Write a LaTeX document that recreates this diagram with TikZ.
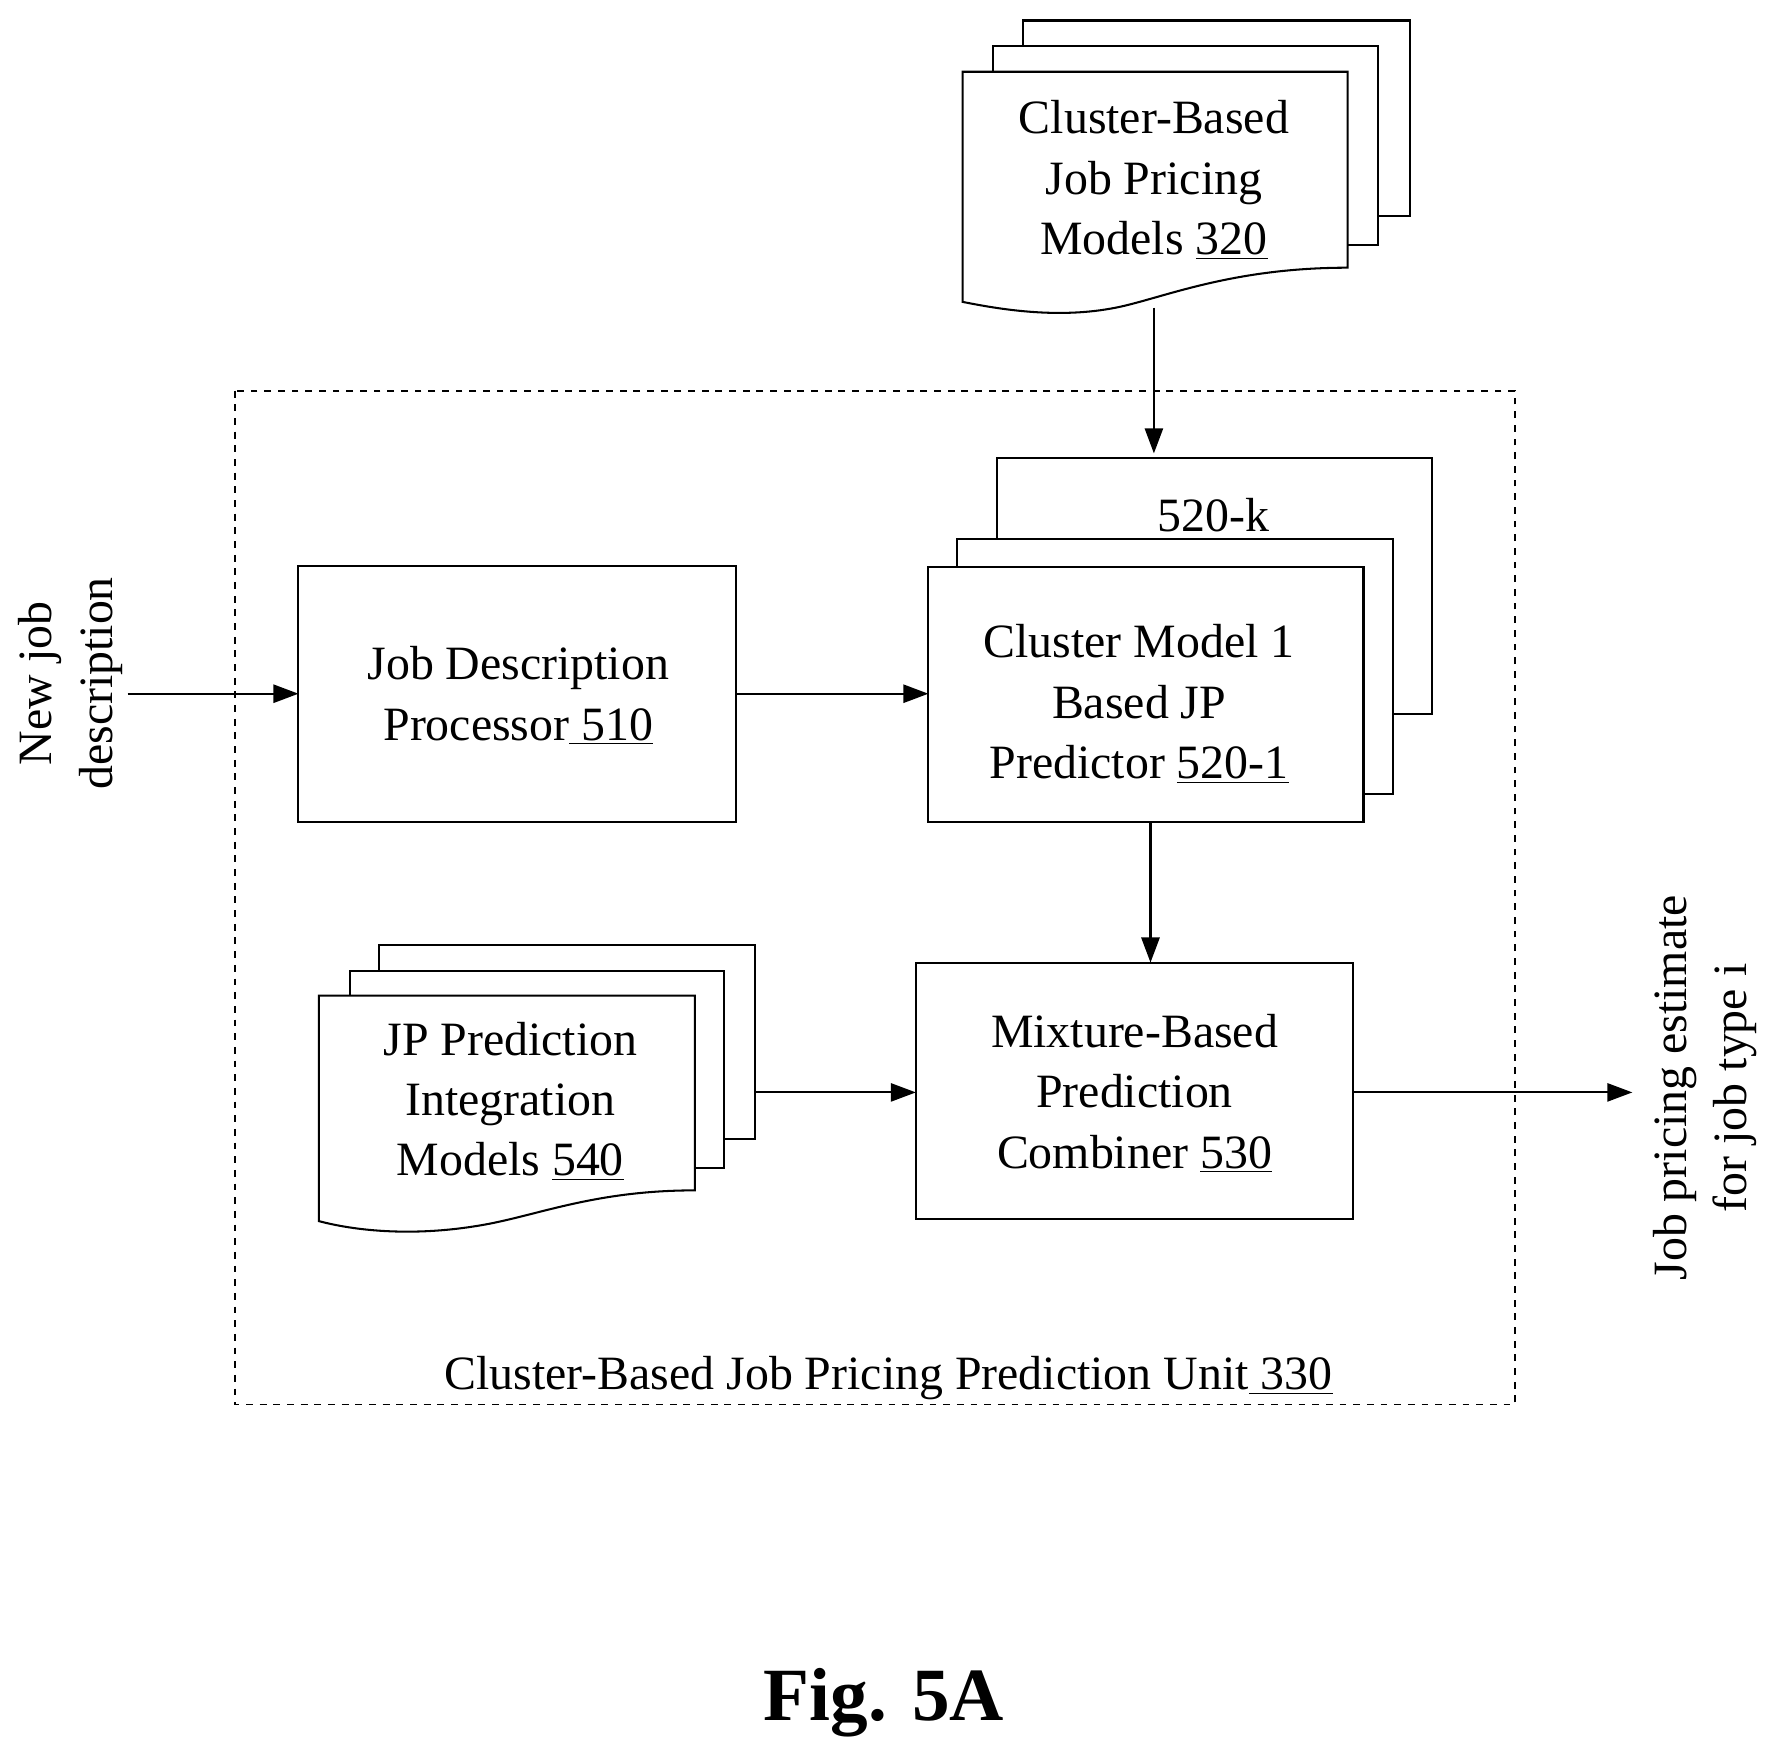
\documentclass[tikz,border=0pt]{standalone}
\usepackage{fontspec}
\setmainfont{Liberation Serif}
\usetikzlibrary{arrows.meta}
\begin{document}
\begin{tikzpicture}[x=0.5pt,y=-0.5pt,
  box/.style={draw,line width=0.9pt,fill=white},
  txt/.style={font=\fontsize{21}{26.5}\selectfont,align=center},
  arr/.style={line width=0.9pt,-{Triangle[length=11pt,width=8pt]}}]
\useasboundingbox (0,0) rectangle (1560,1543);
% top doc stack
\draw[box] (898,18) rectangle (1238,190);
\draw[box] (872,40) rectangle (1210,215);
\draw[box] (845,63) -- (1183,63) -- (1183,235) .. controls (1080,235) and (1020,262) .. (980,270) .. controls (930,280) and (880,272) .. (845,265) -- cycle;
\node[txt] (m320) at (1013,158) {Cluster-Based\\Job Pricing\\Models \underline{320}};
\coordinate (m320b) at (1013,270);
% dashed unit
\draw[dashed,line width=0.8pt] (206,343) rectangle (1330,1233);
\node[txt,anchor=base] (unit) at (780,1220) {Cluster-Based Job Pricing Prediction Unit\underline{ 330}};
% 520 stack
\draw[box] (875,402) rectangle (1257,627);
\node[txt] (k) at (1065,452) {520-k};
\draw[box] (840,473) rectangle (1223,697);
\draw[box] (815,498) rectangle (1197,722);
\node[txt] (p520) at (1000,618) {Cluster Model 1\\Based JP\\Predictor \underline{520-1}};
\coordinate (p520t) at (1013,398);
% JDP
\draw[box] (262,497) rectangle (646,722);
\node[txt] (jdp) at (455,611) {Job Description\\Processor\underline{ 510}};
% mixture
\draw[box] (804,845) rectangle (1188,1070);
\node[txt] (mix) at (996,960) {Mixture-Based\\Prediction\\Combiner \underline{530}};
% 540 stack
\draw[box] (333,830) rectangle (663,1000);
\draw[box] (307,852) rectangle (636,1025);
\draw[box] (280,874) -- (610,874) -- (610,1045) .. controls (520,1045) and (470,1068) .. (420,1076) .. controls (360,1086) and (310,1080) .. (280,1072) -- cycle;
\node[txt] (m540) at (448,967) {JP Prediction\\Integration\\Models \underline{540}};
% side labels
\node[txt,rotate=90] (new) at (62,600) {New job\\description};
\node[txt,rotate=90] (out) at (1497,955) {Job pricing estimate\\for job type i};
\coordinate (newr) at (112,609);
\coordinate (outl) at (1433,959);
\node[font=\fontsize{33}{40}\selectfont\bfseries] (fig) at (776,1495) {Fig. 5A};
% arrows
\draw[arr] (m320b) -- (p520t);
\draw[arr] (newr) -- (262,609);
\draw[arr] (646,609) -- (815,609);
\draw[arr] (1010,722) -- (1010,845);
\draw[arr] (663,959) -- (804,959);
\draw[arr] (1188,959) -- (outl);
\end{tikzpicture}
\end{document}
